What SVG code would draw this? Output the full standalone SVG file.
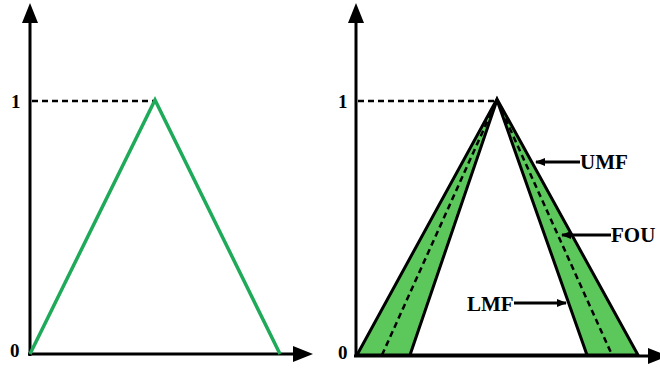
<svg xmlns="http://www.w3.org/2000/svg" width="660" height="370" viewBox="0 0 660 370">
<style>
.axis{stroke:#000;stroke-width:3;fill:none}
.dash{stroke:#000;stroke-width:2.5;stroke-dasharray:6 4;fill:none}
.lbl{font-family:"Liberation Serif",serif;font-weight:bold;font-size:21px;fill:#000}
.tick{font-family:"Liberation Serif",serif;font-weight:bold;font-size:19px;fill:#000}
.ptr{stroke:#000;stroke-width:3;fill:none}
</style>
<defs>
<marker id="ah" markerWidth="10" markerHeight="8" refX="9" refY="4" orient="auto" markerUnits="userSpaceOnUse">
<path d="M0,0 L10,4 L0,8 z" fill="#000"/>
</marker>
</defs>
<rect width="660" height="370" fill="#fff"/>
<g id="left-panel">
<line class="axis" x1="30" y1="356" x2="30" y2="22"/>
<path d="M22,23 L30,3 L38,23 z" fill="#000"/>
<line class="axis" x1="28" y1="354" x2="294" y2="354"/>
<path d="M293,346 L313,354 L293,362 z" fill="#000"/>
<line class="dash" x1="32" y1="101" x2="155" y2="101"/>
<polyline points="30,354 155,100 280,354" fill="none" stroke="#1faa5a" stroke-width="3.5"/>
<text class="tick" x="11" y="108">1</text>
<text class="tick" x="10" y="357">0</text>
</g>
<g id="right-panel">
<line class="axis" x1="356" y1="357" x2="356" y2="22"/>
<path d="M348,23 L356,3 L364,23 z" fill="#000"/>
<line class="axis" x1="354" y1="356" x2="650" y2="356"/>
<path d="M648,348 L668,356 L648,364 z" fill="#000"/>
<line class="dash" x1="358" y1="101" x2="495" y2="101"/>
<polygon id="umf" points="357,355 497,99 638,355" fill="#5cc85c" stroke="#000" stroke-width="3" stroke-linejoin="miter"/>
<polygon id="lmf" points="410,355 497,100 587,355" fill="#fff" stroke="#000" stroke-width="3"/>
<polyline class="dash" points="382,355 497,100 612,355" stroke-width="2.5"/>
<text class="tick" x="338" y="108">1</text>
<text class="tick" x="338" y="359">0</text>
</g>
<g id="connectors">
<line class="ptr" x1="580" y1="162" x2="536" y2="162" marker-end="url(#ah)"/>
<line class="ptr" x1="611" y1="235" x2="562" y2="235" marker-end="url(#ah)"/>
<line class="ptr" x1="514" y1="303" x2="566" y2="303" marker-end="url(#ah)"/>
</g>
<g id="labels">
<text class="lbl" x="580" y="169">UMF</text>
<text class="lbl" x="611" y="242">FOU</text>
<text class="lbl" x="467" y="311">LMF</text>
</g>
</svg>
